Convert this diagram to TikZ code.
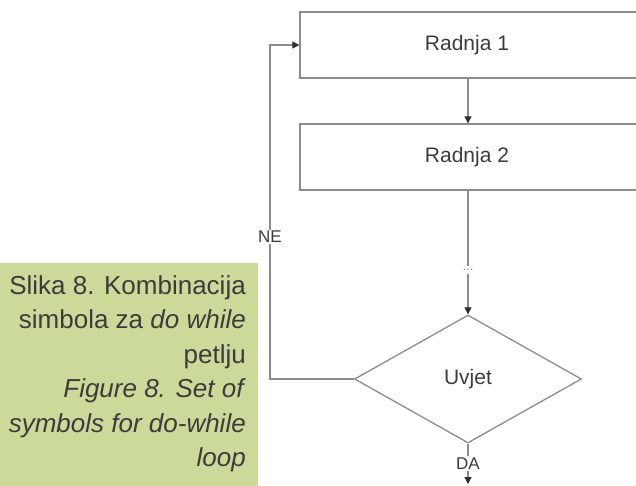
\documentclass[tikz,border=0pt]{standalone}
\usepackage{fontspec}
\setmainfont{Liberation Sans}
\usetikzlibrary{shapes.geometric,arrows.meta}
\definecolor{linegray}{HTML}{8C8C8C}
\definecolor{textgray}{HTML}{3C3C3C}
\definecolor{tipgray}{HTML}{2E2E2E}
\definecolor{capgreen}{HTML}{CBDA98}
\tikzset{
  box/.style={draw=linegray,line width=1.3pt,minimum width=340pt,minimum height=66pt,inner sep=0pt,font=\fontsize{21}{24}\selectfont,text=textgray},
  cond/.style={draw=linegray,line width=1.3pt,shape=diamond,aspect=1.77,minimum width=227pt,minimum height=128pt,inner sep=0pt,font=\fontsize{21}{24}\selectfont,text=textgray},
  conn/.style={draw=linegray,line width=1.2pt},
  tip/.style={-{Triangle[length=7pt,width=7pt,color=tipgray]}},
  lbl/.style={fill=white,inner sep=1.5pt,font=\fontsize{17}{19}\selectfont,text=textgray},
}
\begin{document}
\begin{tikzpicture}[x=1pt,y=-1pt]
\useasboundingbox (0,0) rectangle (636,486);
\clip (0,0) rectangle (636,486);
\fill[capgreen] (0,263) rectangle (258,486);
\node[anchor=north east,align=right,inner sep=0pt,text=textgray,font=\fontsize{26}{34.5}\selectfont] (cap) at (246,275)
  {Slika 8. Kombinacija\\ simbola za \textit{do while}\\ petlju\\ \textit{Figure 8. Set of}\\ \textit{symbols for do-while}\\ \textit{loop}};
\node[box] (r1) at (470,45) {\hspace*{-6pt}Radnja 1};
\node[box] (r2) at (470,157) {\hspace*{-6pt}Radnja 2};
\node[cond] (c) at (468,379) {Uvjet};
\coordinate (dots) at (468,270);
\coordinate (bl) at (270,379);
\coordinate (tl) at (270,45);
\coordinate (end) at (468,484);
\draw[conn,tip] (r1.south -| c.north) -- (r2.north -| c.north);
\draw[conn] (r2.south -| c.north) -- (dots);
\draw[conn,tip] (dots) -- (c.north);
\node[fill=white,inner sep=3pt,text=linegray,font=\fontsize{13}{13}\selectfont] (dn) at (dots) {...};
\draw[conn,tip] (c.west) -- (bl) -- node[lbl,pos=0.425] (ne) {NE} (tl) -- (r1.west);
\draw[conn,tip] (c.south) -- node[lbl,pos=0.5] (da) {DA} (end);
\end{tikzpicture}
\end{document}
